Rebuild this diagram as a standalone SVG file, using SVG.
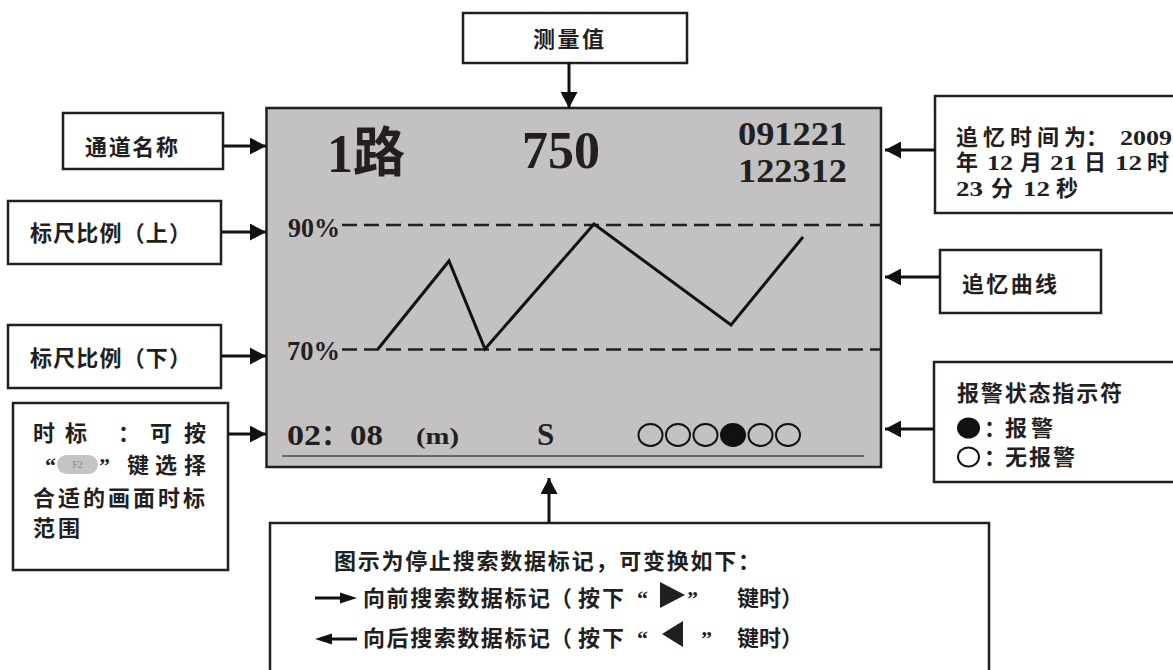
<svg xmlns="http://www.w3.org/2000/svg" width="1173" height="670" viewBox="0 0 1173 670">
<defs>
<style>
.box{fill:#fff;stroke:#231f20;stroke-width:2.5}
.t{font-family:"Liberation Serif","Noto Sans CJK SC",serif;font-weight:700;fill:#231f20;font-size:22px}
.s{font-family:"Liberation Serif","Noto Sans CJK SC",serif;font-weight:700;fill:#231f20}
.dash{stroke:#231f20;stroke-width:2.5;stroke-dasharray:15 7;fill:none}
.conn line{stroke:#111;stroke-width:3;marker-end:url(#ah)}
</style>
<marker id="ah" markerUnits="userSpaceOnUse" markerWidth="16" markerHeight="17" refX="16" refY="8.5" orient="auto" viewBox="0 0 16 17">
<path d="M0,0 L16,8.5 L0,17 Z" fill="#111"/>
</marker>
</defs>
<rect width="1173" height="670" fill="#fff"/>

<g id="screen">
<rect x="266.5" y="108" width="614.5" height="359" fill="#c3c1c2" stroke="#231f20" stroke-width="2.5"/>
<text class="s" x="327" y="172" font-size="54" textLength="78" lengthAdjust="spacingAndGlyphs">1路</text>
<text class="s" x="522" y="168" font-size="52" textLength="78" lengthAdjust="spacingAndGlyphs">750</text>
<text class="s" x="738" y="145" font-size="33" textLength="109" lengthAdjust="spacingAndGlyphs" style="font-weight:600">091221</text>
<text class="s" x="738" y="182" font-size="33" textLength="109" lengthAdjust="spacingAndGlyphs" style="font-weight:600">122312</text>
<text class="s" x="288" y="237" font-size="27" textLength="52" lengthAdjust="spacingAndGlyphs">90%</text>
<text class="s" x="287" y="360" font-size="27" textLength="53" lengthAdjust="spacingAndGlyphs">70%</text>
<line class="dash" x1="342" y1="225" x2="880" y2="225"/>
<line class="dash" x1="342" y1="349.5" x2="880" y2="349.5"/>
<polyline points="378,349 449,261 485,349 594,224 731,325 803,237" fill="none" stroke="#111" stroke-width="3" stroke-linejoin="miter"/>
<text class="s" x="287" y="445" font-size="30" textLength="34" lengthAdjust="spacingAndGlyphs">02</text>
<text class="s" x="321" y="445" font-size="28">：</text>
<text class="s" x="350" y="445" font-size="30" textLength="33" lengthAdjust="spacingAndGlyphs">08</text>
<text class="s" x="416" y="444" font-size="24" textLength="43" lengthAdjust="spacingAndGlyphs">(m)</text>
<text class="s" x="537" y="445" font-size="31">S</text>
<g fill="none" stroke="#111" stroke-width="2">
<ellipse cx="650.5" cy="435" rx="12" ry="11"/>
<ellipse cx="678" cy="435" rx="12" ry="11"/>
<ellipse cx="705.5" cy="435" rx="12" ry="11"/>
<ellipse cx="733" cy="435" rx="12" ry="11" fill="#111"/>
<ellipse cx="760.5" cy="435" rx="12" ry="11"/>
<ellipse cx="788" cy="435" rx="12" ry="11"/>
</g>
<line x1="282" y1="456" x2="864" y2="456" stroke="#4a4a4a" stroke-width="1.5"/>
</g>

<g id="n-measure">
<rect class="box" x="463" y="13" width="224" height="50"/>
<text class="t" x="533" y="47" textLength="71" lengthAdjust="spacing">测量值</text>
</g>

<g id="n-channel">
<rect class="box" x="63" y="113" width="160" height="56"/>
<text class="t" x="85" y="155" textLength="93" lengthAdjust="spacing">通道名称</text>
</g>

<g id="n-scale-up">
<rect class="box" x="8" y="201" width="213" height="63"/>
<text class="t" x="30" y="241" textLength="161" lengthAdjust="spacing">标尺比例（上）</text>
</g>

<g id="n-scale-down">
<rect class="box" x="8" y="325" width="213" height="63"/>
<text class="t" x="30" y="366" textLength="161" lengthAdjust="spacing">标尺比例（下）</text>
</g>

<g id="n-timescale">
<rect class="box" x="13" y="403" width="215" height="167"/>
<text class="t" y="441"><tspan x="33">时</tspan><tspan x="65">标</tspan><tspan x="118">：</tspan><tspan x="150">可</tspan><tspan x="184">按</tspan></text>
<text class="t" y="473"><tspan x="45">“</tspan><tspan x="99">”</tspan><tspan x="127">键</tspan><tspan x="155">选</tspan><tspan x="184">择</tspan></text>
<rect x="57" y="455" width="41" height="19" rx="9.5" fill="#c4c4c4"/>
<text x="77.5" y="468" text-anchor="middle" font-family="Liberation Serif, serif" font-size="10" fill="#8a8a8a">F2</text>
<text class="t" x="33" y="506" textLength="172" lengthAdjust="spacing">合适的画面时标</text>
<text class="t" x="33" y="536" textLength="47" lengthAdjust="spacing">范围</text>
</g>

<g id="n-recall-time">
<rect class="box" x="935" y="96" width="260" height="117"/>
<text class="t" y="145"><tspan x="956" textLength="130" lengthAdjust="spacing">追忆时间为</tspan><tspan x="1086">：</tspan></text>
<text class="s" x="1120" y="145" font-size="21" textLength="52" lengthAdjust="spacingAndGlyphs">2009</text>
<text class="t" y="170"><tspan x="956">年</tspan><tspan x="1020">月</tspan><tspan x="1084">日</tspan><tspan x="1147">时</tspan></text>
<text class="s" y="170" font-size="21"><tspan x="987" textLength="26" lengthAdjust="spacingAndGlyphs">12</tspan><tspan x="1050" textLength="27" lengthAdjust="spacingAndGlyphs">21</tspan><tspan x="1115" textLength="27" lengthAdjust="spacingAndGlyphs">12</tspan></text>
<text class="t" y="196"><tspan x="991">分</tspan><tspan x="1056">秒</tspan></text>
<text class="s" y="196" font-size="21"><tspan x="956" textLength="27" lengthAdjust="spacingAndGlyphs">23</tspan><tspan x="1023" textLength="27" lengthAdjust="spacingAndGlyphs">12</tspan></text>
</g>

<g id="n-recall-curve">
<rect class="box" x="940" y="250" width="161" height="63"/>
<text class="t" x="962" y="292" textLength="95" lengthAdjust="spacing">追忆曲线</text>
</g>

<g id="n-alarm">
<rect class="box" x="934" y="362" width="260" height="120"/>
<text class="t" x="957" y="401" textLength="165" lengthAdjust="spacing">报警状态指示符</text>
<ellipse cx="968.5" cy="428" rx="11.5" ry="10.5" fill="#111"/>
<text class="t" y="436"><tspan x="984">：</tspan><tspan x="1005" textLength="48" lengthAdjust="spacing">报警</tspan></text>
<ellipse cx="968.5" cy="457" rx="10.5" ry="9.5" fill="none" stroke="#111" stroke-width="2"/>
<text class="t" y="465"><tspan x="984">：</tspan><tspan x="1005" textLength="70" lengthAdjust="spacing">无报警</tspan></text>
</g>

<g id="n-search">
<rect class="box" x="270" y="523" width="719" height="200"/>
<text class="t" x="334" y="569" textLength="426" lengthAdjust="spacing">图示为停止搜索数据标记，可变换如下：</text>
<line x1="315" y1="598" x2="342" y2="598" stroke="#111" stroke-width="3"/>
<polygon points="340,592.5 357,598 340,603.5" fill="#111"/>
<text class="t" y="606"><tspan x="363" textLength="187" lengthAdjust="spacing">向前搜索数据标记</tspan><tspan x="550">（</tspan><tspan x="578" textLength="46" lengthAdjust="spacing">按下</tspan><tspan x="637">“</tspan><tspan x="687">”</tspan><tspan x="737">键时）</tspan></text>
<polygon points="660,582 685,595 660,608" fill="#231f20"/>
<line x1="330" y1="639" x2="357" y2="639" stroke="#111" stroke-width="3"/>
<polygon points="332,633.5 315,639 332,644.5" fill="#111"/>
<text class="t" y="646"><tspan x="363" textLength="187" lengthAdjust="spacing">向后搜索数据标记</tspan><tspan x="550">（</tspan><tspan x="578" textLength="46" lengthAdjust="spacing">按下</tspan><tspan x="637">“</tspan><tspan x="701">”</tspan><tspan x="737">键时）</tspan></text>
<polygon points="683,621 662,634 683,647" fill="#231f20"/>
</g>

<g id="connectors" class="conn">
<line x1="569" y1="63" x2="569" y2="108"/>
<line x1="223" y1="146" x2="266" y2="146"/>
<line x1="221" y1="232" x2="266" y2="232"/>
<line x1="221" y1="356" x2="266" y2="356"/>
<line x1="228" y1="434" x2="266" y2="434"/>
<line x1="935" y1="150" x2="885" y2="150"/>
<line x1="940" y1="277" x2="885" y2="277"/>
<line x1="934" y1="429" x2="885" y2="429"/>
<line x1="549" y1="523" x2="549" y2="478"/>
</g>
</svg>
